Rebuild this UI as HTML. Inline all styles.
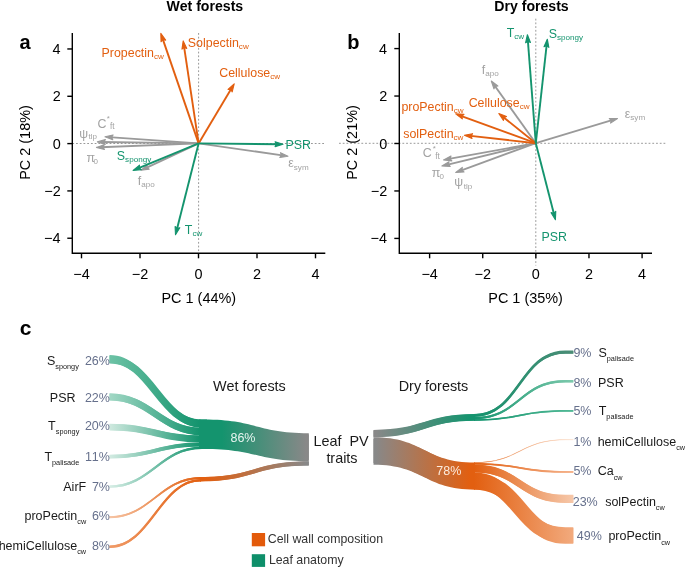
<!DOCTYPE html>
<html><head><meta charset="utf-8"><style>
html,body{margin:0;padding:0;background:#fff;}
svg{display:block;will-change:transform;font-family:"Liberation Sans", sans-serif;}
text{font-kerning:none;}
</style></head><body>
<svg width="685" height="568" viewBox="0 0 685 568" font-family='"Liberation Sans", sans-serif'>
<rect width="685" height="568" fill="#fff"/>
<text x="204.80" y="10.80" font-size="14.10" fill="#000" text-anchor="middle" font-weight="bold">Wet forests</text>
<text x="531.50" y="10.80" font-size="14.10" fill="#000" text-anchor="middle" font-weight="bold">Dry forests</text>
<text fill="#000" font-weight="bold" ><tspan x="19.61" y="49.00" font-size="20.00">a</tspan></text>
<text fill="#000" font-weight="bold" ><tspan x="347.28" y="48.60" font-size="20.00">b</tspan></text>
<text fill="#000" font-weight="bold" ><tspan x="19.78" y="335.00" font-size="21.00">c</tspan></text>
<line x1="72.3" y1="143.5" x2="325.3" y2="143.5" stroke="#999" stroke-width="1" stroke-dasharray="1.8 1.93"/>
<line x1="198.6" y1="33" x2="198.6" y2="253.3" stroke="#999" stroke-width="1" stroke-dasharray="1.8 1.93"/>
<path d="M72.30 33.00 V253.30 H325.30" fill="none" stroke="#000" stroke-width="1.4"/>
<line x1="81.50" y1="253.30" x2="81.50" y2="258.30" stroke="#000" stroke-width="1.4"/>
<text x="81.50" y="279.00" font-size="14.45" fill="#000" text-anchor="middle">−4</text>
<line x1="140.00" y1="253.30" x2="140.00" y2="258.30" stroke="#000" stroke-width="1.4"/>
<text x="140.00" y="279.00" font-size="14.45" fill="#000" text-anchor="middle">−2</text>
<line x1="198.50" y1="253.30" x2="198.50" y2="258.30" stroke="#000" stroke-width="1.4"/>
<text x="198.50" y="279.00" font-size="14.45" fill="#000" text-anchor="middle">0</text>
<line x1="257.00" y1="253.30" x2="257.00" y2="258.30" stroke="#000" stroke-width="1.4"/>
<text x="257.00" y="279.00" font-size="14.45" fill="#000" text-anchor="middle">2</text>
<line x1="315.50" y1="253.30" x2="315.50" y2="258.30" stroke="#000" stroke-width="1.4"/>
<text x="315.50" y="279.00" font-size="14.45" fill="#000" text-anchor="middle">4</text>
<line x1="67.30" y1="238.24" x2="72.30" y2="238.24" stroke="#000" stroke-width="1.4"/>
<text fill="#000" ><tspan x="44.05" y="243.24" font-size="14.45">−4</tspan></text>
<line x1="67.30" y1="190.92" x2="72.30" y2="190.92" stroke="#000" stroke-width="1.4"/>
<text fill="#000" ><tspan x="44.35" y="195.92" font-size="14.45">−2</tspan></text>
<line x1="67.30" y1="143.60" x2="72.30" y2="143.60" stroke="#000" stroke-width="1.4"/>
<text fill="#000" ><tspan x="52.63" y="148.60" font-size="14.45">0</tspan></text>
<line x1="67.30" y1="96.28" x2="72.30" y2="96.28" stroke="#000" stroke-width="1.4"/>
<text fill="#000" ><tspan x="52.79" y="101.28" font-size="14.45">2</tspan></text>
<line x1="67.30" y1="48.96" x2="72.30" y2="48.96" stroke="#000" stroke-width="1.4"/>
<text fill="#000" ><tspan x="52.49" y="53.96" font-size="14.45">4</tspan></text>
<text x="198.80" y="302.70" font-size="14.45" fill="#000" text-anchor="middle">PC 1 (44%)</text>
<text x="0" y="0" font-size="14.45" fill="#000" text-anchor="middle" transform="translate(30.40 142.5) rotate(-90)">PC 2 (18%)</text>
<line x1="198.60" y1="143.40" x2="108.99" y2="137.08" stroke="#9A9A9A" stroke-width="1.90"/>
<polygon points="105.00,136.80 112.75,139.78 111.62,137.27 113.09,134.94" fill="#9A9A9A" stroke="#9A9A9A" stroke-width="1.1" stroke-linejoin="round"/>
<line x1="198.60" y1="143.40" x2="101.40" y2="141.96" stroke="#9A9A9A" stroke-width="1.90"/>
<polygon points="97.40,141.90 105.30,144.44 104.04,142.00 105.37,139.59" fill="#9A9A9A" stroke="#9A9A9A" stroke-width="1.1" stroke-linejoin="round"/>
<line x1="198.60" y1="143.40" x2="100.40" y2="147.24" stroke="#9A9A9A" stroke-width="1.90"/>
<polygon points="96.40,147.40 104.43,149.51 103.03,147.14 104.24,144.66" fill="#9A9A9A" stroke="#9A9A9A" stroke-width="1.1" stroke-linejoin="round"/>
<line x1="198.60" y1="143.40" x2="144.62" y2="168.61" stroke="#9A9A9A" stroke-width="1.90"/>
<polygon points="141.00,170.30 149.22,169.14 147.02,167.49 147.16,164.74" fill="#9A9A9A" stroke="#9A9A9A" stroke-width="1.1" stroke-linejoin="round"/>
<line x1="198.60" y1="143.40" x2="284.04" y2="155.63" stroke="#9A9A9A" stroke-width="1.90"/>
<polygon points="288.00,156.20 280.49,152.67 281.43,155.26 279.80,157.48" fill="#9A9A9A" stroke="#9A9A9A" stroke-width="1.1" stroke-linejoin="round"/>
<line x1="198.60" y1="143.40" x2="162.10" y2="37.18" stroke="#E25F10" stroke-width="1.90"/>
<polygon points="160.80,33.40 161.08,41.70 162.96,39.68 165.67,40.12" fill="#E25F10" stroke="#E25F10" stroke-width="1.1" stroke-linejoin="round"/>
<line x1="198.60" y1="143.40" x2="183.79" y2="44.86" stroke="#E25F10" stroke-width="1.90"/>
<polygon points="183.20,40.90 181.98,49.11 184.19,47.47 186.78,48.39" fill="#E25F10" stroke="#E25F10" stroke-width="1.1" stroke-linejoin="round"/>
<line x1="198.60" y1="143.40" x2="232.15" y2="87.23" stroke="#E25F10" stroke-width="1.90"/>
<polygon points="234.20,83.80 228.05,89.37 230.80,89.50 232.21,91.86" fill="#E25F10" stroke="#E25F10" stroke-width="1.1" stroke-linejoin="round"/>
<line x1="198.60" y1="143.40" x2="136.80" y2="168.88" stroke="#14946E" stroke-width="1.90"/>
<polygon points="133.10,170.40 141.36,169.62 139.24,167.87 139.51,165.13" fill="#14946E" stroke="#14946E" stroke-width="1.1" stroke-linejoin="round"/>
<line x1="198.60" y1="143.40" x2="279.00" y2="144.26" stroke="#14946E" stroke-width="1.90"/>
<polygon points="283.00,144.30 275.09,141.79 276.36,144.23 275.04,146.64" fill="#14946E" stroke="#14946E" stroke-width="1.1" stroke-linejoin="round"/>
<line x1="198.60" y1="143.40" x2="176.48" y2="230.92" stroke="#14946E" stroke-width="1.90"/>
<polygon points="175.50,234.80 179.80,227.70 177.13,228.36 175.09,226.51" fill="#14946E" stroke="#14946E" stroke-width="1.1" stroke-linejoin="round"/>
<text fill="#E25F10" ><tspan x="101.58" y="57.20" font-size="12.40">Propectin</tspan><tspan x="153.97" y="59.40" font-size="8.10">cw</tspan></text>
<text fill="#E25F10" ><tspan x="187.84" y="46.60" font-size="12.40">Solpectin</tspan><tspan x="238.85" y="48.80" font-size="8.10">cw</tspan></text>
<text fill="#E25F10" ><tspan x="219.27" y="77.20" font-size="12.40">Cellulose</tspan><tspan x="270.28" y="79.40" font-size="8.10">cw</tspan></text>
<text fill="#14946E" ><tspan x="285.58" y="148.50" font-size="12.40">PSR</tspan></text>
<text fill="#14946E" ><tspan x="116.84" y="159.70" font-size="12.40">S</tspan><tspan x="125.11" y="161.50" font-size="8.10">spongy</tspan></text>
<text fill="#14946E" ><tspan x="184.82" y="234.20" font-size="12.40">T</tspan><tspan x="192.40" y="236.40" font-size="8.10">cw</tspan></text>
<text fill="#A3A3A3" ><tspan x="288.28" y="167.40" font-size="12.40">ε</tspan><tspan x="293.80" y="169.60" font-size="8.10">sym</tspan></text>
<text fill="#A3A3A3" ><tspan x="137.82" y="184.50" font-size="12.40">f</tspan><tspan x="141.27" y="186.70" font-size="8.10">apo</tspan></text>
<text fill="#A3A3A3" ><tspan x="86.52" y="161.60" font-size="12.40">π</tspan></text>
<text fill="#A3A3A3" ><tspan x="93.59" y="163.50" font-size="8.00">0</tspan></text>
<text fill="#A3A3A3" ><tspan x="79.18" y="137.60" font-size="12.40">ψ</tspan></text>
<text fill="#A3A3A3" ><tspan x="88.58" y="138.90" font-size="8.00">tlp</tspan></text>
<text fill="#A3A3A3" ><tspan x="97.57" y="127.60" font-size="12.40">C</tspan></text>
<text fill="#A3A3A3" ><tspan x="106.87" y="121.30" font-size="8.00">*</tspan></text>
<text fill="#A3A3A3" ><tspan x="110.08" y="129.40" font-size="8.20">ft</tspan></text>
<line x1="339" y1="143.3" x2="667" y2="143.3" stroke="#999" stroke-width="1" stroke-dasharray="1.8 1.93"/>
<line x1="535.8" y1="18.7" x2="535.8" y2="265.5" stroke="#999" stroke-width="1" stroke-dasharray="1.8 1.93"/>
<path d="M399.30 33.10 V253.30 H652.00" fill="none" stroke="#000" stroke-width="1.4"/>
<line x1="429.61" y1="253.30" x2="429.61" y2="258.30" stroke="#000" stroke-width="1.4"/>
<text x="429.61" y="279.00" font-size="14.45" fill="#000" text-anchor="middle">−4</text>
<line x1="482.73" y1="253.30" x2="482.73" y2="258.30" stroke="#000" stroke-width="1.4"/>
<text x="482.73" y="279.00" font-size="14.45" fill="#000" text-anchor="middle">−2</text>
<line x1="535.85" y1="253.30" x2="535.85" y2="258.30" stroke="#000" stroke-width="1.4"/>
<text x="535.85" y="279.00" font-size="14.45" fill="#000" text-anchor="middle">0</text>
<line x1="588.97" y1="253.30" x2="588.97" y2="258.30" stroke="#000" stroke-width="1.4"/>
<text x="588.97" y="279.00" font-size="14.45" fill="#000" text-anchor="middle">2</text>
<line x1="642.09" y1="253.30" x2="642.09" y2="258.30" stroke="#000" stroke-width="1.4"/>
<text x="642.09" y="279.00" font-size="14.45" fill="#000" text-anchor="middle">4</text>
<line x1="394.30" y1="238.42" x2="399.30" y2="238.42" stroke="#000" stroke-width="1.4"/>
<text fill="#000" ><tspan x="370.55" y="243.42" font-size="14.45">−4</tspan></text>
<line x1="394.30" y1="190.96" x2="399.30" y2="190.96" stroke="#000" stroke-width="1.4"/>
<text fill="#000" ><tspan x="370.85" y="195.96" font-size="14.45">−2</tspan></text>
<line x1="394.30" y1="143.50" x2="399.30" y2="143.50" stroke="#000" stroke-width="1.4"/>
<text fill="#000" ><tspan x="379.13" y="148.50" font-size="14.45">0</tspan></text>
<line x1="394.30" y1="96.04" x2="399.30" y2="96.04" stroke="#000" stroke-width="1.4"/>
<text fill="#000" ><tspan x="379.29" y="101.04" font-size="14.45">2</tspan></text>
<line x1="394.30" y1="48.58" x2="399.30" y2="48.58" stroke="#000" stroke-width="1.4"/>
<text fill="#000" ><tspan x="378.99" y="53.58" font-size="14.45">4</tspan></text>
<text x="525.60" y="302.70" font-size="14.45" fill="#000" text-anchor="middle">PC 1 (35%)</text>
<text x="0" y="0" font-size="14.45" fill="#000" text-anchor="middle" transform="translate(357.00 142.5) rotate(-90)">PC 2 (21%)</text>
<line x1="535.80" y1="143.20" x2="493.63" y2="84.25" stroke="#9A9A9A" stroke-width="1.90"/>
<polygon points="491.30,81.00 493.94,88.87 495.16,86.40 497.89,86.04" fill="#9A9A9A" stroke="#9A9A9A" stroke-width="1.1" stroke-linejoin="round"/>
<line x1="535.80" y1="143.20" x2="613.67" y2="119.66" stroke="#9A9A9A" stroke-width="1.90"/>
<polygon points="617.50,118.50 609.20,118.47 611.14,120.42 610.60,123.12" fill="#9A9A9A" stroke="#9A9A9A" stroke-width="1.1" stroke-linejoin="round"/>
<line x1="535.80" y1="143.20" x2="447.54" y2="159.19" stroke="#9A9A9A" stroke-width="1.90"/>
<polygon points="443.60,159.90 451.84,160.87 450.13,158.72 450.98,156.10" fill="#9A9A9A" stroke="#9A9A9A" stroke-width="1.1" stroke-linejoin="round"/>
<line x1="535.80" y1="143.20" x2="445.79" y2="165.06" stroke="#9A9A9A" stroke-width="1.90"/>
<polygon points="441.90,166.00 450.19,166.49 448.35,164.43 449.04,161.77" fill="#9A9A9A" stroke="#9A9A9A" stroke-width="1.1" stroke-linejoin="round"/>
<line x1="535.80" y1="143.20" x2="459.46" y2="171.03" stroke="#9A9A9A" stroke-width="1.90"/>
<polygon points="455.70,172.40 463.99,171.96 461.94,170.13 462.33,167.40" fill="#9A9A9A" stroke="#9A9A9A" stroke-width="1.1" stroke-linejoin="round"/>
<line x1="535.80" y1="143.20" x2="459.46" y2="115.27" stroke="#E25F10" stroke-width="1.90"/>
<polygon points="455.70,113.90 462.32,118.91 461.94,116.18 463.99,114.35" fill="#E25F10" stroke="#E25F10" stroke-width="1.1" stroke-linejoin="round"/>
<line x1="535.80" y1="143.20" x2="501.92" y2="116.00" stroke="#E25F10" stroke-width="1.90"/>
<polygon points="498.80,113.50 503.47,120.36 503.98,117.66 506.51,116.58" fill="#E25F10" stroke="#E25F10" stroke-width="1.1" stroke-linejoin="round"/>
<line x1="535.80" y1="143.20" x2="468.38" y2="135.65" stroke="#E25F10" stroke-width="1.90"/>
<polygon points="464.40,135.20 472.02,138.50 471.00,135.94 472.56,133.67" fill="#E25F10" stroke="#E25F10" stroke-width="1.1" stroke-linejoin="round"/>
<line x1="535.80" y1="143.20" x2="527.71" y2="38.69" stroke="#14946E" stroke-width="1.90"/>
<polygon points="527.40,34.70 525.59,42.80 527.91,41.32 530.43,42.43" fill="#14946E" stroke="#14946E" stroke-width="1.1" stroke-linejoin="round"/>
<line x1="535.80" y1="143.20" x2="546.86" y2="43.18" stroke="#14946E" stroke-width="1.90"/>
<polygon points="547.30,39.20 544.02,46.82 546.57,45.80 548.84,47.36" fill="#14946E" stroke="#14946E" stroke-width="1.1" stroke-linejoin="round"/>
<line x1="535.80" y1="143.20" x2="554.41" y2="215.83" stroke="#14946E" stroke-width="1.90"/>
<polygon points="555.40,219.70 555.78,211.41 553.75,213.27 551.08,212.61" fill="#14946E" stroke="#14946E" stroke-width="1.1" stroke-linejoin="round"/>
<text fill="#E25F10" ><tspan x="401.40" y="110.50" font-size="12.40">proPectin</tspan><tspan x="453.79" y="112.70" font-size="8.10">cw</tspan></text>
<text fill="#E25F10" ><tspan x="468.67" y="106.70" font-size="12.40">Cellulose</tspan><tspan x="519.68" y="108.90" font-size="8.10">cw</tspan></text>
<text fill="#E25F10" ><tspan x="403.25" y="138.00" font-size="12.40">solPectin</tspan><tspan x="453.57" y="140.20" font-size="8.10">cw</tspan></text>
<text fill="#14946E" ><tspan x="506.72" y="36.80" font-size="12.40">T</tspan><tspan x="514.30" y="39.00" font-size="8.10">cw</tspan></text>
<text fill="#14946E" ><tspan x="548.74" y="37.80" font-size="12.40">S</tspan><tspan x="557.01" y="39.60" font-size="8.10">spongy</tspan></text>
<text fill="#14946E" ><tspan x="541.38" y="241.40" font-size="12.40">PSR</tspan></text>
<text fill="#A3A3A3" ><tspan x="481.82" y="73.60" font-size="12.40">f</tspan><tspan x="485.27" y="75.80" font-size="8.10">apo</tspan></text>
<text fill="#A3A3A3" ><tspan x="624.78" y="118.00" font-size="12.40">ε</tspan><tspan x="630.30" y="120.20" font-size="8.10">sym</tspan></text>
<text fill="#A3A3A3" ><tspan x="422.67" y="156.60" font-size="12.40">C</tspan></text>
<text fill="#A3A3A3" ><tspan x="432.87" y="151.00" font-size="8.00">*</tspan></text>
<text fill="#A3A3A3" ><tspan x="435.18" y="158.80" font-size="8.20">ft</tspan></text>
<text fill="#A3A3A3" ><tspan x="431.72" y="176.60" font-size="12.40">π</tspan></text>
<text fill="#A3A3A3" ><tspan x="439.39" y="178.60" font-size="8.00">0</tspan></text>
<text fill="#A3A3A3" ><tspan x="454.28" y="186.30" font-size="12.40">ψ</tspan></text>
<text fill="#A3A3A3" ><tspan x="463.78" y="188.50" font-size="8.00">tlp</tspan></text>
<linearGradient id="g1" gradientUnits="userSpaceOnUse" x1="109.50" y1="0" x2="199.00" y2="0"><stop offset="0.000" stop-color="#6DC2A5"/><stop offset="1.000" stop-color="#14946E"/></linearGradient>
<path d="M109.50 355.10 L109.50 355.10 C151.12 355.10 160.38 419.50 202.00 419.50 L207.00 419.50 L207.00 427.70 L202.00 427.70 C160.38 427.70 151.12 363.60 109.50 363.60 L109.50 363.60 Z" fill="url(#g1)"/>
<path d="M109.50 359.35 L109.50 359.35 C151.12 359.35 160.38 423.60 202.00 423.60 L207.00 423.60" fill="none" stroke="url(#g1)" stroke-width="7.35"/>
<linearGradient id="g2" gradientUnits="userSpaceOnUse" x1="109.50" y1="0" x2="199.00" y2="0"><stop offset="0.000" stop-color="#A2D8C5"/><stop offset="1.000" stop-color="#14946E"/></linearGradient>
<path d="M109.50 393.30 L109.50 393.30 C151.12 393.30 160.38 427.70 202.00 427.70 L207.00 427.70 L207.00 435.40 L202.00 435.40 C160.38 435.40 151.12 400.60 109.50 400.60 L109.50 400.60 Z" fill="url(#g2)"/>
<path d="M109.50 396.95 L109.50 396.95 C151.12 396.95 160.38 431.55 202.00 431.55 L207.00 431.55" fill="none" stroke="url(#g2)" stroke-width="6.60"/>
<linearGradient id="g3" gradientUnits="userSpaceOnUse" x1="109.50" y1="0" x2="199.00" y2="0"><stop offset="0.000" stop-color="#CFE9DF"/><stop offset="1.000" stop-color="#14946E"/></linearGradient>
<path d="M109.50 423.70 L109.50 423.70 C151.12 423.70 160.38 435.40 202.00 435.40 L207.00 435.40 L207.00 442.30 L202.00 442.30 C160.38 442.30 151.12 430.40 109.50 430.40 L109.50 430.40 Z" fill="url(#g3)"/>
<path d="M109.50 427.05 L109.50 427.05 C151.12 427.05 160.38 438.85 202.00 438.85 L207.00 438.85" fill="none" stroke="url(#g3)" stroke-width="5.98"/>
<linearGradient id="g4" gradientUnits="userSpaceOnUse" x1="109.50" y1="0" x2="199.00" y2="0"><stop offset="0.000" stop-color="#D3EBE2"/><stop offset="1.000" stop-color="#14946E"/></linearGradient>
<path d="M109.50 454.80 L109.50 454.80 C151.12 454.80 160.38 442.30 202.00 442.30 L207.00 442.30 L207.00 446.50 L202.00 446.50 C160.38 446.50 151.12 458.40 109.50 458.40 L109.50 458.40 Z" fill="url(#g4)"/>
<path d="M109.50 456.60 L109.50 456.60 C151.12 456.60 160.38 444.40 202.00 444.40 L207.00 444.40" fill="none" stroke="url(#g4)" stroke-width="3.43"/>
<linearGradient id="g5" gradientUnits="userSpaceOnUse" x1="109.50" y1="0" x2="199.00" y2="0"><stop offset="0.000" stop-color="#D8EEE6"/><stop offset="1.000" stop-color="#14946E"/></linearGradient>
<path d="M109.50 485.40 L109.50 485.40 C151.12 485.40 160.38 446.50 202.00 446.50 L207.00 446.50 L207.00 449.00 L202.00 449.00 C160.38 449.00 151.12 487.80 109.50 487.80 L109.50 487.80 Z" fill="url(#g5)"/>
<path d="M109.50 486.60 L109.50 486.60 C151.12 486.60 160.38 447.75 202.00 447.75 L207.00 447.75" fill="none" stroke="url(#g5)" stroke-width="2.16"/>
<linearGradient id="g6" gradientUnits="userSpaceOnUse" x1="109.50" y1="0" x2="201.00" y2="0"><stop offset="0.000" stop-color="#F6C4A4"/><stop offset="1.000" stop-color="#E25F10"/></linearGradient>
<path d="M109.50 516.20 L109.50 516.20 C150.68 516.20 159.82 477.00 201.00 477.00 L201.00 477.00 L201.00 479.00 L201.00 479.00 C159.82 479.00 150.68 518.20 109.50 518.20 L109.50 518.20 Z" fill="url(#g6)"/>
<path d="M109.50 517.20 L109.50 517.20 C150.68 517.20 159.82 478.00 201.00 478.00 L201.00 478.00" fill="none" stroke="url(#g6)" stroke-width="1.76"/>
<linearGradient id="g7" gradientUnits="userSpaceOnUse" x1="109.50" y1="0" x2="201.00" y2="0"><stop offset="0.000" stop-color="#F09B68"/><stop offset="1.000" stop-color="#E25F10"/></linearGradient>
<path d="M109.50 545.50 L109.50 545.50 C150.68 545.50 159.82 479.00 201.00 479.00 L201.00 479.00 L201.00 481.50 L201.00 481.50 C159.82 481.50 150.68 548.10 109.50 548.10 L109.50 548.10 Z" fill="url(#g7)"/>
<path d="M109.50 546.80 L109.50 546.80 C150.68 546.80 159.82 480.25 201.00 480.25 L201.00 480.25" fill="none" stroke="url(#g7)" stroke-width="2.24"/>
<linearGradient id="g8" gradientUnits="userSpaceOnUse" x1="222.00" y1="0" x2="306.00" y2="0"><stop offset="0.000" stop-color="#14946E"/><stop offset="1.000" stop-color="#888888"/></linearGradient>
<path d="M199.00 419.50 L204.00 419.50 C256.40 419.50 256.40 433.20 308.80 433.20 L308.80 433.20 L308.80 461.30 L308.80 461.30 C256.40 461.30 256.40 449.00 204.00 449.00 L199.00 449.00 Z" fill="url(#g8)"/>
<path d="M199.00 434.25 L204.00 434.25 C256.40 434.25 256.40 447.25 308.80 447.25 L308.80 447.25" fill="none" stroke="url(#g8)" stroke-width="25.34"/>
<linearGradient id="g9" gradientUnits="userSpaceOnUse" x1="205.00" y1="0" x2="306.00" y2="0"><stop offset="0.000" stop-color="#E25F10"/><stop offset="1.000" stop-color="#888888"/></linearGradient>
<path d="M200.00 477.00 L200.00 477.00 C254.40 477.00 254.40 461.30 308.80 461.30 L308.80 461.30 L308.80 465.60 L308.80 465.60 C254.40 465.60 254.40 481.50 200.00 481.50 L200.00 481.50 Z" fill="url(#g9)"/>
<path d="M200.00 479.25 L200.00 479.25 C254.40 479.25 254.40 463.45 308.80 463.45 L308.80 463.45" fill="none" stroke="url(#g9)" stroke-width="3.87"/>
<linearGradient id="g10" gradientUnits="userSpaceOnUse" x1="376.00" y1="0" x2="470.00" y2="0"><stop offset="0.000" stop-color="#888888"/><stop offset="1.000" stop-color="#14946E"/></linearGradient>
<path d="M373.50 429.90 L373.50 429.90 C424.25 429.90 424.25 414.10 475.00 414.10 L475.00 414.10 L475.00 420.80 L475.00 420.80 C424.25 420.80 424.25 437.20 373.50 437.20 L373.50 437.20 Z" fill="url(#g10)"/>
<path d="M373.50 433.55 L373.50 433.55 C424.25 433.55 424.25 417.45 475.00 417.45 L475.00 417.45" fill="none" stroke="url(#g10)" stroke-width="6.16"/>
<linearGradient id="g11" gradientUnits="userSpaceOnUse" x1="376.00" y1="0" x2="470.00" y2="0"><stop offset="0.000" stop-color="#888888"/><stop offset="1.000" stop-color="#E25F10"/></linearGradient>
<path d="M373.50 437.20 L373.50 437.20 C424.25 437.20 424.25 462.50 475.00 462.50 L475.00 462.50 L475.00 489.70 L475.00 489.70 C424.25 489.70 424.25 464.80 373.50 464.80 L373.50 464.80 Z" fill="url(#g11)"/>
<path d="M373.50 451.00 L373.50 451.00 C424.25 451.00 424.25 476.10 475.00 476.10 L475.00 476.10" fill="none" stroke="url(#g11)" stroke-width="24.11"/>
<linearGradient id="g12" gradientUnits="userSpaceOnUse" x1="474.00" y1="0" x2="573.30" y2="0"><stop offset="0.000" stop-color="#14946E"/><stop offset="1.000" stop-color="#4B8C76"/></linearGradient>
<path d="M474.00 414.10 L474.00 414.10 C519.65 414.10 519.65 350.60 565.30 350.60 L573.30 350.60 L573.30 353.80 L565.30 353.80 C519.65 353.80 519.65 416.90 474.00 416.90 L474.00 416.90 Z" fill="url(#g12)"/>
<path d="M474.00 415.50 L474.00 415.50 C519.65 415.50 519.65 352.20 565.30 352.20 L573.30 352.20" fill="none" stroke="url(#g12)" stroke-width="2.64"/>
<linearGradient id="g13" gradientUnits="userSpaceOnUse" x1="474.00" y1="0" x2="573.30" y2="0"><stop offset="0.000" stop-color="#14946E"/><stop offset="1.000" stop-color="#7CC9AC"/></linearGradient>
<path d="M474.00 416.90 L474.00 416.90 C519.65 416.90 519.65 380.10 565.30 380.10 L573.30 380.10 L573.30 382.50 L565.30 382.50 C519.65 382.50 519.65 419.30 474.00 419.30 L474.00 419.30 Z" fill="url(#g13)"/>
<path d="M474.00 418.10 L474.00 418.10 C519.65 418.10 519.65 381.30 565.30 381.30 L573.30 381.30" fill="none" stroke="url(#g13)" stroke-width="2.11"/>
<linearGradient id="g14" gradientUnits="userSpaceOnUse" x1="474.00" y1="0" x2="573.30" y2="0"><stop offset="0.000" stop-color="#14946E"/><stop offset="1.000" stop-color="#52B996"/></linearGradient>
<path d="M474.00 419.30 L474.00 419.30 C519.65 419.30 519.65 410.00 565.30 410.00 L573.30 410.00 L573.30 411.70 L565.30 411.70 C519.65 411.70 519.65 420.80 474.00 420.80 L474.00 420.80 Z" fill="url(#g14)"/>
<path d="M474.00 420.05 L474.00 420.05 C519.65 420.05 519.65 410.85 565.30 410.85 L573.30 410.85" fill="none" stroke="url(#g14)" stroke-width="1.41"/>
<linearGradient id="g15" gradientUnits="userSpaceOnUse" x1="474.00" y1="0" x2="573.30" y2="0"><stop offset="0.000" stop-color="#E25F10"/><stop offset="1.000" stop-color="#FBDCC6"/></linearGradient>
<path d="M474.00 462.50 L474.00 462.50 C519.65 462.50 519.65 439.50 565.30 439.50 L573.30 439.50 L573.30 440.00 L565.30 440.00 C519.65 440.00 519.65 462.90 474.00 462.90 L474.00 462.90 Z" fill="url(#g15)"/>
<path d="M474.00 462.70 L474.00 462.70 C519.65 462.70 519.65 439.75 565.30 439.75 L573.30 439.75" fill="none" stroke="url(#g15)" stroke-width="0.40"/>
<linearGradient id="g16" gradientUnits="userSpaceOnUse" x1="474.00" y1="0" x2="573.30" y2="0"><stop offset="0.000" stop-color="#E25F10"/><stop offset="1.000" stop-color="#F5B38C"/></linearGradient>
<path d="M474.00 462.90 L474.00 462.90 C519.65 462.90 519.65 471.10 565.30 471.10 L573.30 471.10 L573.30 472.80 L565.30 472.80 C519.65 472.80 519.65 464.60 474.00 464.60 L474.00 464.60 Z" fill="url(#g16)"/>
<path d="M474.00 463.75 L474.00 463.75 C519.65 463.75 519.65 471.95 565.30 471.95 L573.30 471.95" fill="none" stroke="url(#g16)" stroke-width="1.50"/>
<linearGradient id="g17" gradientUnits="userSpaceOnUse" x1="474.00" y1="0" x2="573.30" y2="0"><stop offset="0.000" stop-color="#E25F10"/><stop offset="1.000" stop-color="#F6C8AA"/></linearGradient>
<path d="M474.00 464.60 L474.00 464.60 C519.65 464.60 519.65 494.80 565.30 494.80 L573.30 494.80 L573.30 503.00 L565.30 503.00 C519.65 503.00 519.65 472.60 474.00 472.60 L474.00 472.60 Z" fill="url(#g17)"/>
<path d="M474.00 468.60 L474.00 468.60 C519.65 468.60 519.65 498.90 565.30 498.90 L573.30 498.90" fill="none" stroke="url(#g17)" stroke-width="7.13"/>
<linearGradient id="g18" gradientUnits="userSpaceOnUse" x1="474.00" y1="0" x2="573.30" y2="0"><stop offset="0.000" stop-color="#E25F10"/><stop offset="1.000" stop-color="#F2AA7D"/></linearGradient>
<path d="M474.00 472.60 L474.00 472.60 C519.65 472.60 519.65 527.20 565.30 527.20 L573.30 527.20 L573.30 543.80 L565.30 543.80 C519.65 543.80 519.65 489.70 474.00 489.70 L474.00 489.70 Z" fill="url(#g18)"/>
<path d="M474.00 481.15 L474.00 481.15 C519.65 481.15 519.65 535.50 565.30 535.50 L573.30 535.50" fill="none" stroke="url(#g18)" stroke-width="14.83"/>
<text fill="#1a1a1a" ><tspan x="46.93" y="364.80" font-size="12.50">S</tspan><tspan x="55.27" y="369.10" font-size="7.30">spongy</tspan></text>
<text fill="#1a1a1a" ><tspan x="49.87" y="401.60" font-size="12.50">PSR</tspan></text>
<text fill="#1a1a1a" ><tspan x="48.12" y="430.00" font-size="12.50">T</tspan><tspan x="55.75" y="434.30" font-size="7.30">spongy</tspan></text>
<text fill="#1a1a1a" ><tspan x="44.42" y="461.00" font-size="12.50">T</tspan><tspan x="52.05" y="465.30" font-size="7.30">palisade</tspan></text>
<text fill="#1a1a1a" ><tspan x="63.28" y="490.80" font-size="12.50">AirF</tspan></text>
<text fill="#1a1a1a" ><tspan x="24.49" y="519.80" font-size="12.50">proPectin</tspan><tspan x="77.30" y="524.10" font-size="7.30">cw</tspan></text>
<text fill="#1a1a1a" ><tspan x="-1.35" y="549.60" font-size="12.50">hemiCellulose</tspan><tspan x="77.16" y="553.90" font-size="7.30">cw</tspan></text>
<text fill="#66708C" ><tspan x="84.93" y="364.80" font-size="12.50">26%</tspan></text>
<text fill="#66708C" ><tspan x="84.93" y="401.60" font-size="12.50">22%</tspan></text>
<text fill="#66708C" ><tspan x="84.93" y="430.00" font-size="12.50">20%</tspan></text>
<text fill="#66708C" ><tspan x="84.93" y="461.00" font-size="12.50">11%</tspan></text>
<text fill="#66708C" ><tspan x="91.88" y="490.80" font-size="12.50">7%</tspan></text>
<text fill="#66708C" ><tspan x="91.88" y="519.80" font-size="12.50">6%</tspan></text>
<text fill="#66708C" ><tspan x="91.88" y="549.60" font-size="12.50">8%</tspan></text>
<text fill="#66708C" ><tspan x="573.38" y="357.00" font-size="12.50">9%</tspan></text>
<text fill="#66708C" ><tspan x="573.38" y="386.80" font-size="12.50">8%</tspan></text>
<text fill="#66708C" ><tspan x="573.38" y="414.80" font-size="12.50">5%</tspan></text>
<text fill="#66708C" ><tspan x="573.38" y="445.50" font-size="12.50">1%</tspan></text>
<text fill="#66708C" ><tspan x="573.38" y="475.40" font-size="12.50">5%</tspan></text>
<text fill="#66708C" ><tspan x="572.73" y="505.80" font-size="12.50">23%</tspan></text>
<text fill="#66708C" ><tspan x="576.83" y="540.00" font-size="12.50">49%</tspan></text>
<text fill="#1a1a1a" ><tspan x="598.43" y="357.00" font-size="12.50">S</tspan><tspan x="606.77" y="361.30" font-size="7.30">palisade</tspan></text>
<text fill="#1a1a1a" ><tspan x="597.97" y="386.80" font-size="12.50">PSR</tspan></text>
<text fill="#1a1a1a" ><tspan x="598.72" y="414.80" font-size="12.50">T</tspan><tspan x="606.35" y="419.10" font-size="7.30">palisade</tspan></text>
<text fill="#1a1a1a" ><tspan x="597.63" y="445.50" font-size="12.50">hemiCellulose</tspan><tspan x="676.14" y="449.80" font-size="7.30">cw</tspan></text>
<text fill="#1a1a1a" ><tspan x="597.67" y="475.40" font-size="12.50">Ca</tspan><tspan x="613.64" y="479.70" font-size="7.30">cw</tspan></text>
<text fill="#1a1a1a" ><tspan x="605.15" y="505.80" font-size="12.50">solPectin</tspan><tspan x="655.87" y="510.10" font-size="7.30">cw</tspan></text>
<text fill="#1a1a1a" ><tspan x="608.39" y="540.40" font-size="12.50">proPectin</tspan><tspan x="661.20" y="544.70" font-size="7.30">cw</tspan></text>
<text fill="#1a1a1a" ><tspan x="213.04" y="391.20" font-size="14.40">Wet forests</tspan></text>
<text fill="#1a1a1a" ><tspan x="398.72" y="391.10" font-size="14.40">Dry forests</tspan></text>
<text fill="#1a1a1a" ><tspan x="313.52" y="446.00" font-size="14.40">Leaf  PV</tspan></text>
<text fill="#1a1a1a" ><tspan x="326.38" y="463.40" font-size="14.40">traits</tspan></text>
<text fill="#E8F5F0" ><tspan x="230.46" y="441.50" font-size="12.50">86%</tspan></text>
<text fill="#FCEBDD" ><tspan x="436.26" y="474.80" font-size="12.50">78%</tspan></text>
<rect x="251.8" y="533" width="13.3" height="13.3" fill="#E35A0A"/>
<rect x="251.8" y="554.2" width="13.3" height="12.7" fill="#0E8F6A"/>
<text fill="#333" ><tspan x="267.77" y="542.80" font-size="12.35">Cell wall composition</tspan></text>
<text fill="#333" ><tspan x="268.89" y="564.20" font-size="12.35">Leaf anatomy</tspan></text>
</svg>
</body></html>
